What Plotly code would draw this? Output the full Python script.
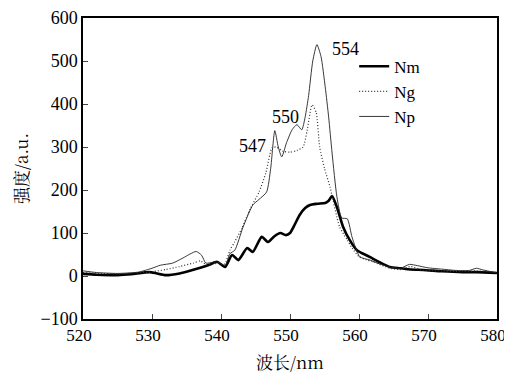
import plotly.graph_objects as go

# Nm (thick solid)
nm_x = [520, 522, 525, 527, 529.7, 532, 534, 535.5, 537, 538.3, 539.4, 540.6, 541.6, 542.5, 543.8,
        544.6, 545.9, 546.8, 547.7, 548.6, 549.4, 550, 550.7, 551.4, 552.2, 552.9, 554, 555.1, 555.6,
        556.1, 556.8, 557.7, 558.6, 559.7, 561.6, 563, 564.5, 566, 567.5, 569.3, 572, 575, 577, 580]
nm_y = [5, 3, 2, 4, 9, 2, 6, 12, 19, 26, 33, 21, 49, 37, 65,
        56, 91, 79, 92, 100, 95, 100, 120, 142, 158, 165, 168, 170, 175,
        186, 160, 114, 85, 60, 44, 32, 21, 18, 15, 14, 11, 9, 9, 7]

# Ng (dotted)
ng_x = [520, 525, 530, 532, 534, 536, 537, 538, 539.5, 540.5, 541.3, 542, 543, 544.2, 545.5, 546.5,
        547.4, 548, 549, 550, 551, 551.9, 552.5, 553.2, 553.8, 554.3, 555, 555.8, 557.2, 558.3, 559,
        560, 561, 562, 564.5, 566, 567.5, 569, 572, 575, 577, 580]
ng_y = [8, 5, 10, 15, 22, 30, 35, 25, 30, 28, 60, 80, 110, 155, 195, 240,
        298, 300, 290, 288, 292, 300, 340, 398, 380, 300, 250, 207, 114, 84, 65,
        45, 38, 33, 18, 15, 22, 14, 12, 10, 12, 8]

# Np (thin solid)
np_x = [520, 522, 525, 528, 530, 531.2, 533, 534.5, 536.4, 537.2, 537.8, 539.3, 540.6, 541.3, 542,
        543.2, 544.6, 545.5, 546.6, 547.2, 547.8, 548.3, 548.8, 549.5, 550.3, 551, 551.7, 552.2,
        552.7, 553.3, 553.9, 554.5, 555.1, 555.6, 556.1, 556.8, 557.5, 558.3, 559, 560.1, 561.6,
        563, 564.5, 566, 567.3, 568.5, 570, 572, 574, 576, 577, 578, 580]
np_y = [12, 8, 6, 9, 18, 25, 30, 42, 57, 48, 30, 33, 25, 52, 60,
        114, 165, 178, 195, 250, 338, 300, 277, 310, 340, 352, 340, 370,
        420, 500, 538, 510, 440, 370, 286, 184, 135, 133, 90, 45, 37,
        28, 21, 18, 27, 24, 19, 16, 13, 13, 18, 14, 7]

peak_x = [544.6, 549.3, 558.0]
peak_y = [302, 370, 528]
peak_labels = ["547", "550", "554"]

x_ticks = [520, 530, 540, 550, 560, 570, 580]
y_ticks = [-100, 0, 100, 200, 300, 400, 500, 600]
y_ticktext = ["\u2212100", "0", "100", "200", "300", "400", "500", "600"]

FONT = "Liberation Serif"
CJK = "Noto Serif CJK SC, Noto Sans CJK SC"

fig = go.Figure()
fig.add_trace(go.Scatter(x=nm_x, y=nm_y, mode="lines", name="Nm",
                         line=dict(color="black", width=2.6, shape="spline", smoothing=0.6)))
fig.add_trace(go.Scatter(x=ng_x, y=ng_y, mode="lines", name="Ng",
                         line=dict(color="#333333", width=1.2, dash="1px,2px", shape="spline", smoothing=0.6)))
fig.add_trace(go.Scatter(x=np_x, y=np_y, mode="lines", name="Np",
                         line=dict(color="#222222", width=0.9, shape="spline", smoothing=0.6)))

for px, py, t in zip(peak_x, peak_y, peak_labels):
    fig.add_annotation(x=px, y=py, text=t, showarrow=False,
                       font=dict(family=FONT, size=18, color="black"))

fig.update_layout(
    width=504, height=369,
    margin=dict(l=75, r=15, t=10, b=58, autoexpand=False),
    paper_bgcolor="white", plot_bgcolor="white",
    font=dict(family=FONT, size=18, color="black"),
    showlegend=True,
    legend=dict(x=0.655, y=0.898, xanchor="left", yanchor="top",
                bgcolor="rgba(0,0,0,0)", font=dict(family=FONT, size=17),
                tracegroupgap=0, itemwidth=30),
    xaxis=dict(range=[520, 580], tickvals=x_ticks, ticks="inside", ticklen=5,
               tickwidth=1.2, showline=True, linecolor="black", linewidth=1.5,
               mirror=True, showgrid=False, zeroline=False, automargin=False,
               tickfont=dict(family=FONT, size=17), ticklabelshift=-4,
               title=dict(text="波长/nm", font=dict(family=CJK, size=17), standoff=13)),
    yaxis=dict(range=[-100, 600], tickvals=y_ticks, ticktext=y_ticktext, ticks="inside",
               ticklen=5, tickwidth=1.2, showline=True, linecolor="black", linewidth=1.5,
               mirror=True, showgrid=False, zeroline=False, automargin=False,
               title=dict(text="强度/a.u.", font=dict(family=CJK, size=17), standoff=8)),
)

fig.write_html("out.html")
